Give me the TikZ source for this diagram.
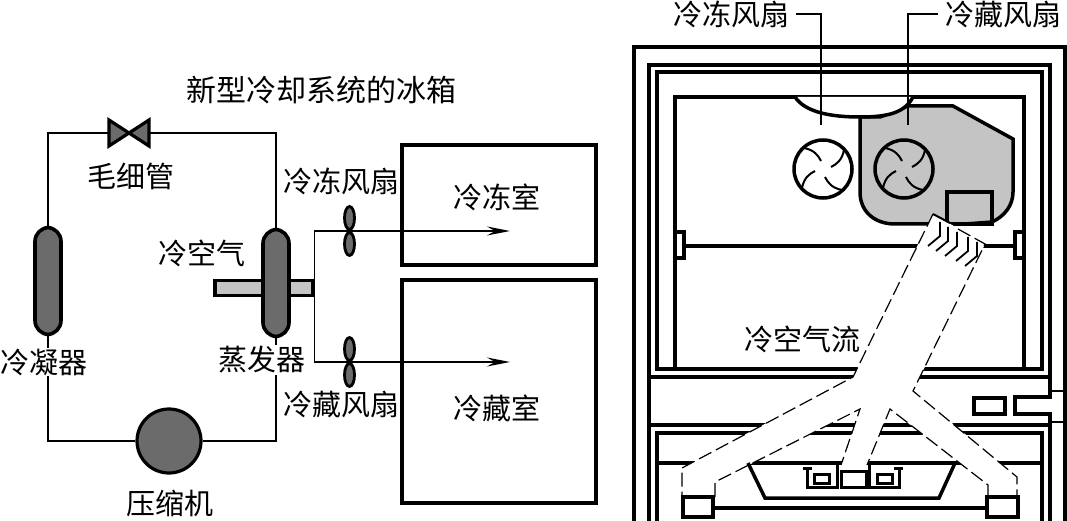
\documentclass[tikz,border=0pt]{standalone}
\usepackage{fontspec}
\setmainfont{Noto Sans CJK SC}
\usetikzlibrary{arrows.meta}
\usetikzlibrary{shapes.geometric}

\definecolor{tankgray}{gray}{0.42}
\definecolor{airgray}{gray}{0.77}
\tikzset{
  lbl/.style={font=\fontsize{29}{29}\selectfont, inner sep=1pt},
  wall/.style={line width=3.5pt},
  pipe/.style={line width=1.2pt},
  room/.style={draw, line width=3.8pt, inner sep=0pt},
  tank/.style={draw, line width=3.6pt, fill=tankgray, rounded corners=14pt, inner sep=0pt,
    minimum width=26pt, minimum height=107pt},
  blade/.style={draw, line width=2.8pt, fill=tankgray, ellipse, inner sep=0pt,
    minimum width=10pt, minimum height=23pt},
  ductline/.style={line width=1.2pt, dash pattern=on 14pt off 5pt},
  drawerline/.style={line width=3pt}
}

\begin{document}
\begin{tikzpicture}[x=1pt,y=-1pt]
        \useasboundingbox (0,0) rectangle (1067,521);

        % compartimentos
        \node[room, minimum width=194pt, minimum height=120pt] (freezerroom) at (499,205) {};
        \node[room, minimum width=194pt, minimum height=223pt] (fridgeroom) at (499,391.5) {};

        % circuito
        \node[tank] (condenser) at (48,281) {};
        \node[draw, line width=3.6pt, fill=airgray, minimum width=98pt, minimum height=15pt, inner sep=0pt] (airbar) at (264,288) {};
        \node[tank] (evaporator) at (276,283) {};
        \node[draw, circle, line width=3.2pt, fill=tankgray, inner sep=0pt, minimum size=64pt] (compressor) at (169,441) {};
        \node[minimum width=40pt, minimum height=26pt, inner sep=0pt, outer sep=0pt] (valve) at (129,133) {};
        \draw[line width=3.2pt, fill=tankgray, line join=miter]
          (valve.north west) -- (valve.south east) -- (valve.north east) -- (valve.south west) -- cycle;
        \draw[pipe] (condenser.north) |- (valve.west);
        \draw[pipe] (valve.east) -| (evaporator.north);
        \draw[pipe] (condenser.south) |- (compressor.west);
        \draw[pipe] (evaporator.south) |- (compressor.east);

        % ar frio
        \coordinate (freezertip) at (510,231);
        \coordinate (fridgetip) at (510,362);
        \draw[pipe, -{Stealth[length=23pt, width=9pt, inset=8pt]}] (airbar.east) |- (freezertip);
        \draw[pipe, -{Stealth[length=23pt, width=9pt, inset=8pt]}] (airbar.east) |- (fridgetip);

        % ventiladores
        \foreach \y in {218,244,349,375}
        \node[blade] at (349.5,\y) {};

        % textos
        \node[lbl, font=\fontsize{30}{30}\selectfont] (title) at (321,90) {新型冷却系统的冰箱};
        \node[lbl] (valvelabel) at (131,176) {毛细管};
        \node[lbl] (freezerfan) at (341,181) {冷冻风扇};
        \node[lbl] (airlabel) at (202,253) {冷空气};
        \node[lbl, fill=white] (condenserlabel) at (44,362) {冷凝器};
        \node[lbl, fill=white] (evaporatorlabel) at (262,360) {蒸发器};
        \node[lbl] (fridgefan) at (341,404) {冷藏风扇};
        \node[lbl] (compressorlabel) at (170,503) {压缩机};
        \node[lbl] (freezerlabel) at (497,197) {冷冻室};
        \node[lbl] (fridgelabel) at (497,408) {冷藏室};

        % caixa externa
        \draw[wall] (634,521) |- (1065,47) -- (1065,521);
        \draw[wall] (649,521) |- (1050,65) -- (1050,397) -- (1015,397) -- (1015,414) -- (1050,414) -- (1050,521);
        \draw[wall] (657,369) |- (1042,72) |- cycle;
        \draw[wall] (675,369) |- (1024,97) -- (1024,369);
        \draw[wall] (649,377) -- (1050,377);
        \draw[wall] (649,425) -- (1050,425);
        \draw[wall] (657,521) |- (1042,433) -- (1042,521);
        \draw[wall] (657,463) -- (1042,463);
        \draw[wall] (974,398) rectangle (1005,414);
        \draw[line width=2.6pt] (1050,391) -- (1065,391);
        \draw[line width=2.6pt] (1050,422) -- (1065,422);

        % prateleira
        \draw[wall] (684,246) -- (1015,246);
        \draw[wall, fill=white] (675,232) rectangle (684,258);
        \draw[wall, fill=white] (1015,232) rectangle (1024,258);

        % duto do ventilador
        \draw[wall, fill=airgray] (860,117) -- (860,192) .. controls (860,212) and (875,224) .. (895,224)
          -- (965,224) -- (992,222) .. controls (1005,216) and (1013,205) .. (1013,192)
          -- (1013,139) -- (953,106) -- (908,106) -- (880,117) -- cycle;
        \draw[wall, fill=white] (795,97) .. controls (805,112) and (830,117) .. (860,117)
          .. controls (890,117) and (905,112) .. (913,97);
        \draw[wall] (947,192) rectangle (992,224);

        % helices
        \foreach \cx in {823,904} {
        \draw[wall] (\cx,169) circle (29);
        \foreach \a in {0,90,180,270}
        \draw[line width=2pt, shift={(\cx,169)}, rotate=\a]
          (-19,-21) .. controls (-9,-19) and (-5,-14) .. (-2,-8);
        }

        % fluxo de ar
        \fill[white] (933,214) -- (985,244) -- (913,391) -- (1017,477) -- (1017,497) -- (988,497) -- (988,485)
          -- (890,409) -- (867,465) -- (841,465) -- (860,409) -- (715,482) -- (715,497) -- (682,497)
          -- (682,468) -- (853,377) -- cycle;
        \draw[line width=2pt] (933,214) -- (950,223);
        \draw[ductline] (958,229) -- (985,244) -- (913,391) -- (1017,477) -- (1017,497);
        \draw[ductline] (933,214) -- (853,377) -- (682,468) -- (682,497);
        \draw[ductline] (988,497) -- (988,485) -- (890,409) -- (867,465);
        \draw[ductline] (715,497) -- (715,482) -- (860,409) -- (841,465);
        \foreach \x/\y in {
        940/222, 948/227, 957/232, 968/237, 977/242}
        \draw[line width=1.8pt] (\x,\y) -- ++(0,14) -- ++(-12,10);
        \node[lbl, fill=white] (airflow) at (802,339) {冷空气流};

        % gaveta
        \draw[wall] (748,463) -- (765,498) -- (939,498) -- (955,463);
        \draw[drawerline] (803,468) -- (812,468);
        \draw[drawerline] (807,468) |- (837,487) -- (837,465);
        \draw[drawerline] (903,468) -- (894,468);
        \draw[drawerline] (899,468) |- (869,487) -- (869,465);
        \draw[drawerline] (814,474) rectangle (829,483);
        \draw[drawerline] (841,471) rectangle (866,487);
        \draw[drawerline] (877,474) rectangle (892,483);
        \draw[wall] (713,508) -- (987,508);
        \draw[wall, fill=white] (683,497) rectangle (713,517);
        \draw[wall, fill=white] (987,497) rectangle (1018,517);

        % rotulos dos ventiladores
        \node[lbl, inner sep=7pt] (rightfreezerfan) at (731,14) {冷冻风扇};
        \node[lbl, inner sep=7pt] (rightfridgefan) at (1003,14) {冷藏风扇};
        \coordinate (freezerwheel) at (821,125);
        \coordinate (fridgewheel) at (908,125);
        \draw[pipe] (rightfreezerfan.east) -| (freezerwheel);
        \draw[pipe] (rightfridgefan.west) -| (fridgewheel);
    \end{tikzpicture}
\end{document}
